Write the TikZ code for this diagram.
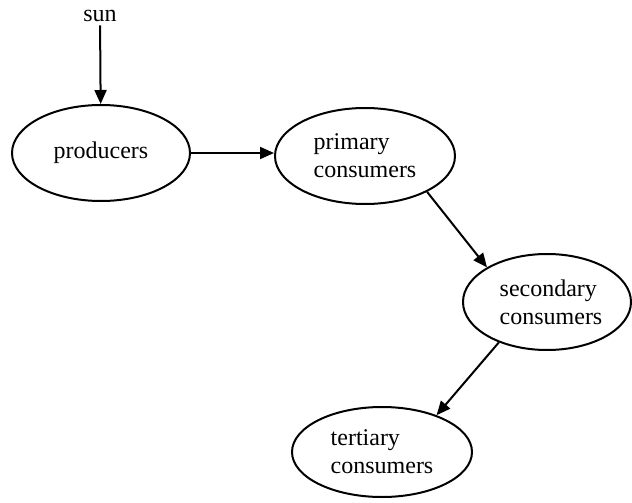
\documentclass[tikz,border=0pt]{standalone}
\usepackage{fontspec}
\setmainfont{Liberation Serif}
\usetikzlibrary{shapes.geometric,arrows.meta}
\begin{document}
\begin{tikzpicture}[x=1pt,y=-1pt,
  every node/.style={font=\fontsize{24}{28}\selectfont},
  stage/.style={draw,ellipse,line width=2pt,inner sep=0pt,align=left},
  flow/.style={line width=2pt,-{Triangle[length=14pt,width=12pt]}}]
\useasboundingbox (0,0) rectangle (632,503);
\node (sun) at (100,16) {sun};
\node[stage,minimum width=178pt,minimum height=96pt] (prod) at (101,153) {producers};
\node[stage,minimum width=180pt,minimum height=96pt] (prim) at (365,156) {primary\\consumers};
\node[stage,minimum width=168pt,minimum height=96pt] (sec) at (547,302) {\hspace*{8pt}secondary\\\hspace*{8pt}consumers};
\node[stage,minimum width=180pt,minimum height=90pt] (ter) at (382,452) {tertiary\\consumers};
\draw[flow] (sun) -- (prod);
\draw[flow] (prod) -- (prim.west |- prod.east);
\draw[flow] (prim.-30) -- (sec.150);
\draw[flow] (sec.-140) -- (ter.34);
\end{tikzpicture}
\end{document}
